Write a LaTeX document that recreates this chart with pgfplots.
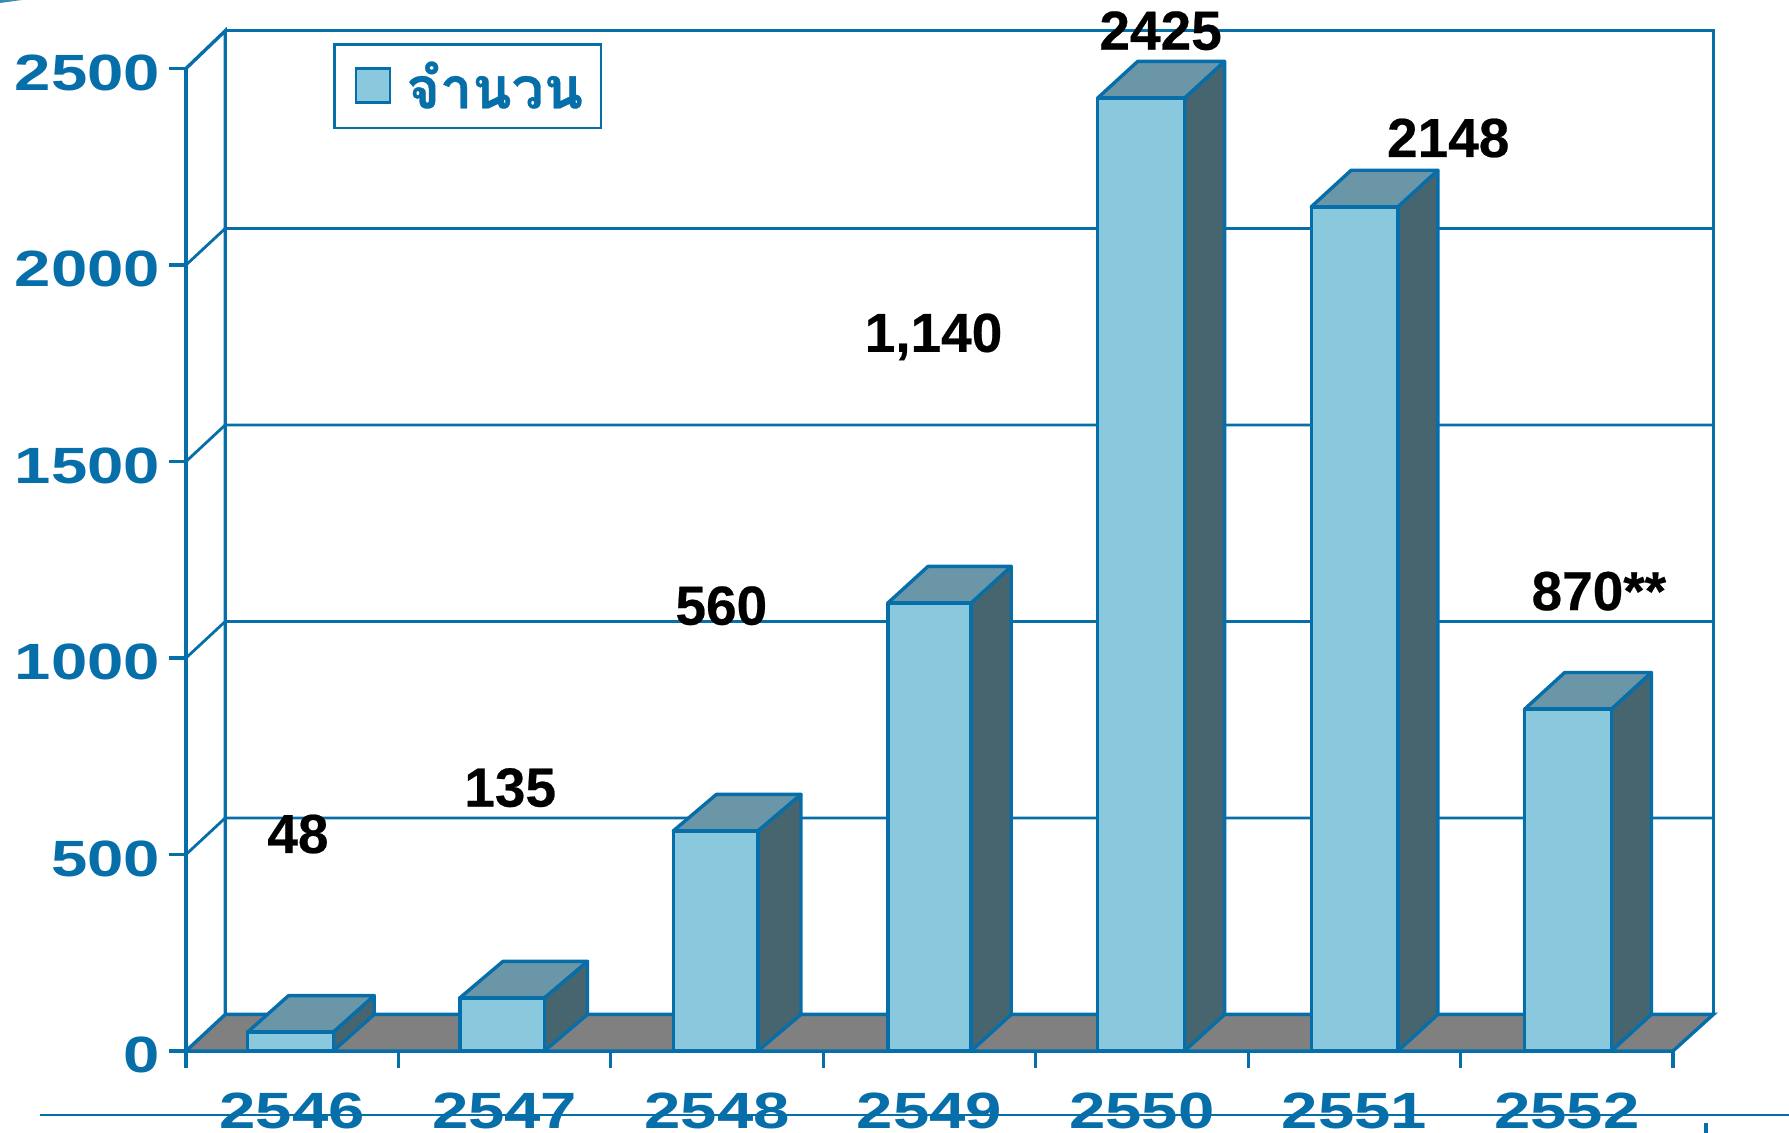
\documentclass[border=0pt]{standalone}
\usepackage{fontspec}
\usepackage{pgfplots}
\pgfplotsset{compat=1.18}
\setmainfont{Liberation Sans}
\newfontfamily\tickfont[FakeStretch=1.28]{Liberation Sans Bold}
\newfontfamily\valuefont[FakeBold=0.4]{Liberation Sans Bold}
\newfontfamily\thaifont[Script=Thai,FakeBold=0.6]{Loma Bold}
\definecolor{lineblue}{HTML}{066EA8}
\definecolor{barfront}{HTML}{8AC8DE}
\definecolor{bartop}{HTML}{6A96A8}
\definecolor{barside}{HTML}{46656F}
\definecolor{floorgrey}{HTML}{808080}
\pgfplotsset{
    side/.style={fill=barside,draw=lineblue,line width=1.7pt,line join=round,forget plot},
    top/.style={fill=bartop,draw=lineblue,line width=1.7pt,line join=round,forget plot},
    front/.style={fill=barfront,draw=lineblue,line width=1.7pt,line join=round,forget plot},
}
\begin{document}
\begin{tikzpicture}
\path[use as bounding box,clip] (0,0) rectangle (894.5pt,566.5pt);
\fill[lineblue!80] (0,566.5pt) -- (11pt,566.5pt) -- (0,565pt) -- cycle;
\begin{axis}[
    at={(93pt,41pt)},
    anchor=south west,
    scale only axis,
    width=743.5pt,
    height=491.25pt,
    xmin=0,xmax=7,
    ymin=0,ymax=2500,
    clip=false,
    axis x line*=bottom,
    axis y line*=left,
    axis line style={draw=lineblue,line width=1.7pt,-},
    xtick={0,...,7},
    x tick label as interval,
    xticklabels={2546,2547,2548,2549,2550,2551,2552},
    ytick={0,500,1000,1500,2000,2500},
    yticklabels={0,500,1000,1500,2000,2500},
    tick align=outside,
    major tick length=8.5pt,
    tick style={draw=lineblue,line width=1.6pt},
    ticklabel style={font=\tickfont\fontsize{25.5}{25.5}\selectfont,text=lineblue},
    xticklabel style={yshift=-8.8pt},
    yticklabel style={xshift=-1pt,yshift=-2pt},
    legend style={
        at={(axis cs:0.693,2564)},anchor=north west,
        draw=lineblue,line width=1.4pt,
        inner xsep=7pt,inner ysep=6.4pt,
        font=\thaifont\fontsize{28.7}{28.7}\selectfont,
        text=lineblue,
    },
]
% walls and gridlines, behind everything
\draw[lineblue,line width=1.7pt] (0.185,2596) -- (7.19,2596) -- (7.19,93);
\draw[lineblue,line width=1.7pt] (0.185,93) -- (0.185,2596) -- (0,2500);
\foreach \v in {500,1000,1500,2000}{
    \edef\tmp{\noexpand\draw[lineblue,line width=1.4pt] (0,\v) -- (0.185,\v+93) -- (7.19,\v+93);}
    \tmp
}

% floor
\addplot[fill=floorgrey,draw=lineblue,line width=1.7pt,forget plot]
    coordinates {(0,0)(7,0)(7.19,93)(0.185,93)} -- cycle;

% bars: side, top, front
% 2546
\addplot[side] coordinates {(0.693,0)(0.886,93)(0.886,141)(0.693,48)} -- cycle;
\addplot[top] coordinates {(0.290,48)(0.693,48)(0.886,141)(0.483,141)} -- cycle;
\addplot[front] coordinates {(0.290,0)(0.693,0)(0.693,48)(0.290,48)} -- cycle;
% 2547
\addplot[side] coordinates {(1.687,0)(1.890,93)(1.890,228)(1.687,135)} -- cycle;
\addplot[top] coordinates {(1.289,135)(1.687,135)(1.890,228)(1.492,228)} -- cycle;
\addplot[front] coordinates {(1.289,0)(1.687,0)(1.687,135)(1.289,135)} -- cycle;
% 2548
\addplot[side] coordinates {(2.692,0)(2.895,93)(2.895,653)(2.692,560)} -- cycle;
\addplot[top] coordinates {(2.294,560)(2.692,560)(2.895,653)(2.497,653)} -- cycle;
\addplot[front] coordinates {(2.294,0)(2.692,0)(2.692,560)(2.294,560)} -- cycle;
% 2549
\addplot[side] coordinates {(3.696,0)(3.885,93)(3.885,1233)(3.696,1140)} -- cycle;
\addplot[top] coordinates {(3.304,1140)(3.696,1140)(3.885,1233)(3.493,1233)} -- cycle;
\addplot[front] coordinates {(3.304,0)(3.696,0)(3.696,1140)(3.304,1140)} -- cycle;
% 2550
\addplot[side] coordinates {(4.701,0)(4.889,93)(4.889,2518)(4.701,2425)} -- cycle;
\addplot[top] coordinates {(4.292,2425)(4.701,2425)(4.889,2518)(4.480,2518)} -- cycle;
\addplot[front] coordinates {(4.292,0)(4.701,0)(4.701,2425)(4.292,2425)} -- cycle;
% 2551
\addplot[side] coordinates {(5.705,0)(5.893,93)(5.893,2241)(5.705,2148)} -- cycle;
\addplot[top] coordinates {(5.297,2148)(5.705,2148)(5.893,2241)(5.485,2241)} -- cycle;
\addplot[front] coordinates {(5.297,0)(5.705,0)(5.705,2148)(5.297,2148)} -- cycle;
% 2552
\addplot[side] coordinates {(6.710,0)(6.898,93)(6.898,963)(6.710,870)} -- cycle;
\addplot[top] coordinates {(6.302,870)(6.710,870)(6.898,963)(6.490,963)} -- cycle;
\addplot[front] coordinates {(6.302,0)(6.710,0)(6.710,870)(6.302,870)} -- cycle;

\addlegendimage{legend image code/.code={
    \path (0pt,0pt);
    \draw[fill=barfront,draw=lineblue,line width=1.4pt] (3pt,-8pt) rectangle (20pt,9pt);
}}
\addlegendentry{\hspace*{5.5pt}จำนวน}

% labels sit away from the bars in the original
\begin{scope}[every node/.style={font=\valuefont\fontsize{27.5}{27.5}\selectfont,text=black}]
\node at (axis cs:0.527,552) {48};
\node at (axis cs:1.526,670) {135};
\node at (axis cs:2.520,1133) {560};
\node at (axis cs:3.519,1817) {1,140};
\node at (axis cs:4.588,2596) {2425};
\node at (axis cs:5.942,2323) {2148};
\node at (axis cs:6.651,1170) {870**};
\end{scope}

% rule across the slide under the chart
\draw[lineblue,line width=1pt] (axis cs:-0.687,-163) -- (axis cs:7.6,-163);
\fill[lineblue] (axis cs:7.145,-240) rectangle (axis cs:7.165,-183);
\end{axis}
\end{tikzpicture}
\end{document}
